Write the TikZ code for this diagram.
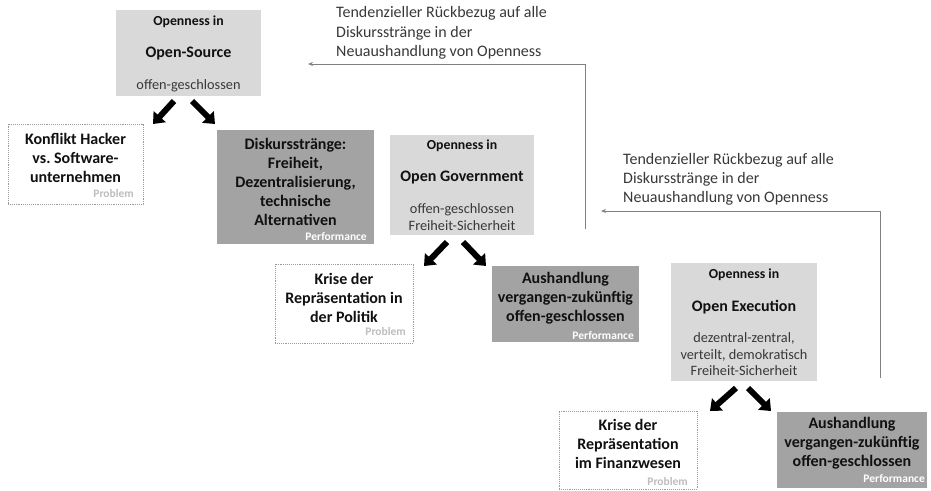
\documentclass[tikz,border=0pt]{standalone}
\usepackage{fontspec}
\setmainfont{Carlito}
\usetikzlibrary{arrows.meta}
\frenchspacing
\definecolor{boxlight}{HTML}{D9D9D9}
\definecolor{boxdark}{HTML}{A3A3A3}
\definecolor{dotgray}{HTML}{9A9A9A}
\definecolor{taggray}{HTML}{BDBDBD}
\definecolor{linegray}{HTML}{808080}
\definecolor{textgray}{HTML}{383838}
\definecolor{boldink}{HTML}{111111}
\tikzset{
  box/.style={anchor=north west, inner sep=0pt, outer sep=0pt},
  lightbox/.style={box, fill=boxlight},
  darkbox/.style={box, fill=boxdark},
  probbox/.style={box, fill=white, draw=dotgray, densely dotted, line width=0.9pt},
  boxtext/.style={align=center, inner sep=0pt, text=boldink, font=\fontsize{16}{19}\selectfont\bfseries},
  headtext/.style={inner sep=0pt, text=boldink, font=\fontsize{13.8}{15}\selectfont\bfseries},
  titletext/.style={inner sep=0pt, text=boldink, font=\fontsize{16}{18}\selectfont\bfseries},
  subtext/.style={align=center, inner sep=0pt, text=textgray, font=\fontsize{14.3}{16.5}\selectfont},
  probtag/.style={anchor=east, inner sep=0pt, text=taggray, font=\fontsize{11.5}{12}\selectfont\bfseries},
  perftag/.style={anchor=east, inner sep=0pt, text=white, font=\fontsize{11.5}{12}\selectfont\bfseries},
  notetext/.style={anchor=west, align=left, inner sep=0pt, text=textgray, font=\fontsize{16}{19.2}\selectfont},
  blockarrow/.style={line width=6pt, -{Triangle[length=10pt, width=16pt]}},
  feedback/.style={draw=linegray, line width=0.9pt, -{Stealth[length=5pt, width=4pt]}},
}
\begin{document}
\begin{tikzpicture}[x=1pt, y=-1pt]
\useasboundingbox (0,0) rectangle (931,490);

% ---------- Open-Source ----------
\node[lightbox, minimum width=145, minimum height=86] (os) at (116,10) {};
\node[headtext] (osh) at (188.5,22) {Openness in};
\node[titletext] (ost) at (188.5,54) {Open-Source};
\node[subtext] (oss) at (188.5,86) {offen-geschlossen};

\node[probbox, minimum width=135, minimum height=80] (kh) at (8,124) {};
\node[boxtext] (kht) at (75.5,158) {Konflikt Hacker\\vs. Software-\\unternehmen};
\node[probtag] (khp) at (134,194) {Problem};

\node[darkbox, minimum width=157, minimum height=114] (ds) at (217,130) {};
\node[boxtext] (dst) at (295.5,181.5) {Diskursstränge:\\Freiheit,\\Dezentralisierung,\\technische\\Alternativen};
\node[perftag] (dsp) at (367,237) {Performance};

\coordinate (osL1) at (174,101); \coordinate (osL2) at (153,124);
\coordinate (osR1) at (192,101); \coordinate (osR2) at (215,124);
\draw[blockarrow] (osL1) -- (osL2);
\draw[blockarrow] (osR1) -- (osR2);

% ---------- Open Government ----------
\node[lightbox, minimum width=144, minimum height=100] (og) at (390,135) {};
\node[headtext] (ogh) at (462,146) {Openness in};
\node[titletext] (ogt) at (462,178) {Open Government};
\node[subtext] (ogs) at (462,217) {offen-geschlossen\\Freiheit-Sicherheit};

\node[probbox, minimum width=138, minimum height=79] (kp) at (275,264) {};
\node[boxtext] (kpt) at (344,297.5) {Krise der\\Repräsentation in\\der Politik};
\node[probtag] (kpp) at (406,332) {Problem};

\node[darkbox, minimum width=147, minimum height=76] (a1) at (492,266) {};
\node[boxtext] (a1t) at (565.5,298.5) {Aushandlung\\vergangen-zukünftig\\offen-geschlossen};
\node[perftag] (a1p) at (634,336) {Performance};

\coordinate (ogL1) at (447,242); \coordinate (ogL2) at (424,266);
\coordinate (ogR1) at (463,242); \coordinate (ogR2) at (486,266);
\draw[blockarrow] (ogL1) -- (ogL2);
\draw[blockarrow] (ogR1) -- (ogR2);

% ---------- Open Execution ----------
\node[lightbox, minimum width=146, minimum height=118] (oe) at (671,263) {};
\node[headtext] (oeh) at (744,275) {Openness in};
\node[titletext] (oet) at (744,307) {Open Execution};
\node[subtext] (oes) at (744,354.5) {dezentral-zentral,\\verteilt, demokratisch\\Freiheit-Sicherheit};

\node[probbox, minimum width=138, minimum height=78] (kf) at (559,411) {};
\node[boxtext] (kft) at (628,444) {Krise der\\Repräsentation\\im Finanzwesen};
\node[probtag] (kfp) at (688,481) {Problem};

\node[darkbox, minimum width=150, minimum height=76] (a2) at (777,412) {};
\node[boxtext] (a2t) at (852,443.5) {Aushandlung\\vergangen-zukünftig\\offen-geschlossen};
\node[perftag] (a2p) at (925,479) {Performance};

\coordinate (oeL1) at (736,388); \coordinate (oeL2) at (710,411);
\coordinate (oeR1) at (748,388); \coordinate (oeR2) at (771,411);
\draw[blockarrow] (oeL1) -- (oeL2);
\draw[blockarrow] (oeR1) -- (oeR2);

% ---------- feedback towards earlier discourse strands ----------
\node[notetext] (n1) at (336,33) {Tendenzieller Rückbezug auf alle\\Diskursstränge in der\\Neuaushandlung von Openness};
\coordinate (f1a) at (585,229);
\coordinate (f1b) at (585,64);
\coordinate (f1c) at (308,64);
\draw[feedback] (f1a) -- (f1b) -- (f1c);

\node[notetext] (n2) at (623,179.5) {Tendenzieller Rückbezug auf alle\\Diskursstränge in der\\Neuaushandlung von Openness};
\coordinate (f2a) at (880,378);
\coordinate (f2b) at (880,211);
\coordinate (f2c) at (601,211);
\draw[feedback] (f2a) -- (f2b) -- (f2c);
\end{tikzpicture}
\end{document}
